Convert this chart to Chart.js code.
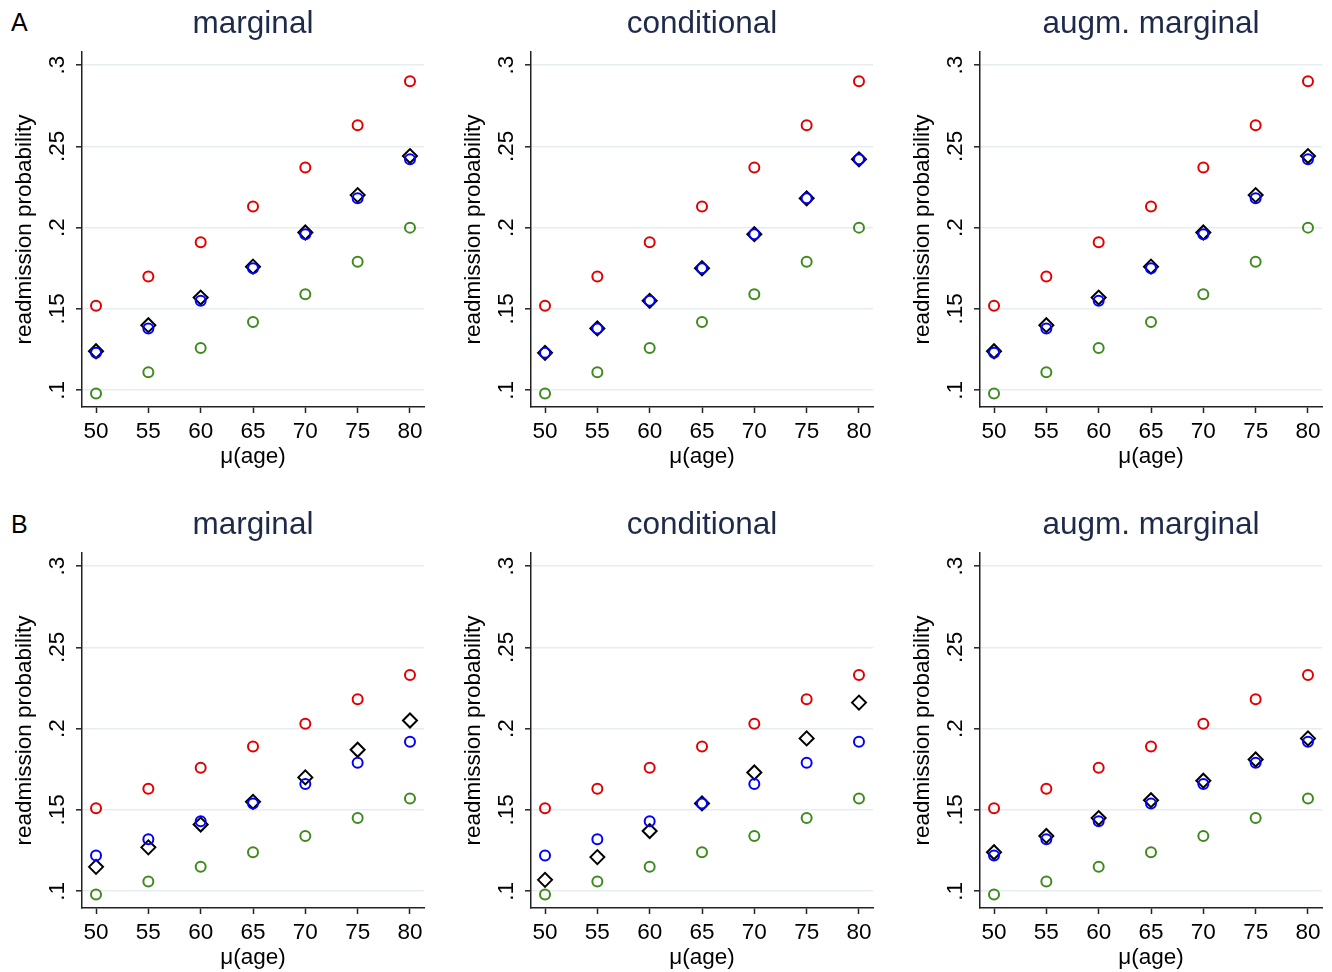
<!DOCTYPE html>
<html>
<head>
<meta charset="utf-8">
<script src="https://cdn.jsdelivr.net/npm/chart.js@4"></script>
<style>
  body { margin: 0; background: #fff; width: 1332px; height: 972px; position: relative; overflow: hidden;
         font-family: "Liberation Sans", Arial, sans-serif; }
  .panel { position: absolute; width: 434px; height: 486px; }
  .tag { position: absolute; font-size: 25px; color: #000; line-height: 1; }
</style>
</head>
<body>
<div class="tag" style="left:11px;top:10px">A</div>
<div class="tag" style="left:11px;top:512px">B</div>

<div class="panel" style="left:0px;top:0px"><canvas id="a1"></canvas></div>
<div class="panel" style="left:449px;top:0px"><canvas id="a2"></canvas></div>
<div class="panel" style="left:898px;top:0px"><canvas id="a3"></canvas></div>
<div class="panel" style="left:0px;top:501px"><canvas id="b1"></canvas></div>
<div class="panel" style="left:449px;top:501px"><canvas id="b2"></canvas></div>
<div class="panel" style="left:898px;top:501px"><canvas id="b3"></canvas></div>

<script>
// x categories (mean age) and y ticks
const ages = [50, 55, 60, 65, 70, 75, 80];
const yTicks = [0.1, 0.15, 0.2, 0.25, 0.3];
const yTickLabels = ['.1', '.15', '.2', '.25', '.3'];
const panelTitles = ['marginal', 'conditional', 'augm. marginal'];

// row A
const redA   = [0.152, 0.170, 0.191, 0.213, 0.237, 0.263, 0.290];
const greenA = [0.098, 0.111, 0.126, 0.142, 0.159, 0.179, 0.200];
const blueA  = [0.123, 0.138, 0.155, 0.175, 0.196, 0.218, 0.242];
const diaA_marg = [0.124, 0.140, 0.157, 0.176, 0.197, 0.220, 0.244];
const diaA_cond = [0.123, 0.138, 0.155, 0.175, 0.196, 0.218, 0.242];
const diaA_augm = [0.124, 0.140, 0.157, 0.176, 0.197, 0.220, 0.244];

// row B
const redB   = [0.151, 0.163, 0.176, 0.189, 0.203, 0.218, 0.233];
const greenB = [0.098, 0.106, 0.115, 0.124, 0.134, 0.145, 0.157];
const blueB  = [0.122, 0.132, 0.143, 0.154, 0.166, 0.179, 0.192];
const diaB_marg = [0.115, 0.127, 0.141, 0.155, 0.170, 0.187, 0.205];
const diaB_cond = [0.107, 0.121, 0.137, 0.154, 0.173, 0.194, 0.216];
const diaB_augm = [0.124, 0.134, 0.145, 0.156, 0.168, 0.181, 0.194];

const FONT = '"Liberation Sans", Arial, sans-serif';

function pts(vals) {
  return ages.map((a, i) => ({ x: a, y: vals[i] }));
}

function circles(vals, color) {
  return {
    data: pts(vals),
    pointStyle: 'circle',
    pointRadius: 5,
    pointBorderWidth: 2,
    borderColor: color,
    pointBorderColor: color,
    pointBackgroundColor: 'rgba(0,0,0,0)',
    showLine: false
  };
}

function diamonds(vals) {
  return {
    data: pts(vals),
    pointStyle: 'rectRot',
    pointRadius: 7,
    pointBorderWidth: 2,
    borderColor: '#000',
    pointBorderColor: '#000',
    pointBackgroundColor: 'rgba(0,0,0,0)',
    showLine: false
  };
}

function makePanel(id, title, red, green, blue, dia) {
  const ctx = document.getElementById(id).getContext('2d');
  return new Chart(ctx, {
    type: 'scatter',
    data: {
      // first dataset is drawn on top
      datasets: [circles(blue, '#0000ff'), diamonds(dia), circles(green, '#3f8a1f'), circles(red, '#e00000')]
    },
    options: {
      responsive: true,
      maintainAspectRatio: false,
      animation: false,
      events: [],
      layout: { padding: { left: 0, right: 10, top: 0, bottom: 0 } },
      plugins: {
        legend: { display: false },
        tooltip: { enabled: false },
        title: {
          display: true,
          text: title,
          fullSize: false,
          color: '#1e2a4a',
          font: { family: FONT, size: 31.5, weight: 'normal', lineHeight: 1.2 },
          padding: { top: 5, bottom: 9.2 }
        }
      },
      scales: {
        x: {
          type: 'linear',
          min: 48.66,
          max: 81.34,
          afterBuildTicks: s => { s.ticks = ages.map(v => ({ value: v })); },
          afterFit: s => { s.height = 79; },
          border: { color: '#222', width: 1.5 },
          grid: { drawOnChartArea: false, drawTicks: true, tickLength: 6, tickColor: '#222', tickWidth: 1.5 },
          ticks: {
            autoSkip: false, maxRotation: 0, padding: 5, color: '#000',
            font: { family: FONT, size: 22.5 },
            callback: v => String(v)
          },
          title: {
            display: true, text: 'μ(age)', color: '#000',
            font: { family: FONT, size: 22.5, lineHeight: 1.2 },
            padding: { top: 0, bottom: 15.8 }
          }
        },
        y: {
          type: 'linear',
          min: 0.0897,
          max: 0.308,
          afterBuildTicks: s => { s.ticks = yTicks.map(v => ({ value: v })); },
          afterFit: s => { s.width = 82; },
          border: { color: '#222', width: 1.5 },
          grid: { color: '#e6edf1', lineWidth: 1.6, drawTicks: true, tickLength: 6, tickColor: '#222', tickWidth: 1.5 },
          ticks: {
            autoSkip: false, minRotation: 90, maxRotation: 90, crossAlign: 'center', padding: 3, color: '#000',
            font: { family: FONT, size: 22.5 },
            callback: (v, i) => yTickLabels[i]
          },
          title: {
            display: true, text: 'readmission probability', color: '#000',
            font: { family: FONT, size: 22.5, lineHeight: 1.2 },
            padding: { top: 11.5, bottom: 0 }
          }
        }
      }
    }
  });
}

makePanel('a1', panelTitles[0], redA, greenA, blueA, diaA_marg);
makePanel('a2', panelTitles[1], redA, greenA, blueA, diaA_cond);
makePanel('a3', panelTitles[2], redA, greenA, blueA, diaA_augm);
makePanel('b1', panelTitles[0], redB, greenB, blueB, diaB_marg);
makePanel('b2', panelTitles[1], redB, greenB, blueB, diaB_cond);
makePanel('b3', panelTitles[2], redB, greenB, blueB, diaB_augm);
</script>
</body>
</html>
